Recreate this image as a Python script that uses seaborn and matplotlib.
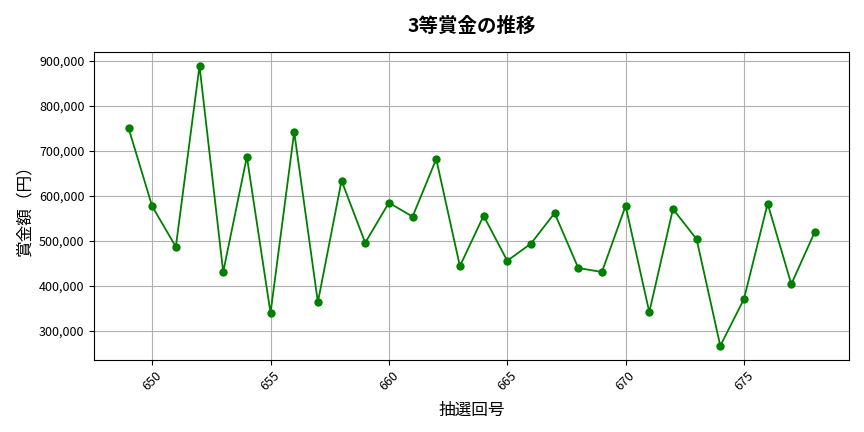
import matplotlib
matplotlib.use("Agg")
import matplotlib.pyplot as plt
import matplotlib.ticker as mticker
import seaborn as sns
import pandas as pd

draws = list(range(649, 679))
prizes = [751000, 577000, 487000, 889000, 431000, 687000, 340000, 742000, 364000, 634000,
          496000, 585000, 554000, 682000, 444000, 556000, 456000, 494000, 562000, 440000,
          431000, 578000, 342000, 571000, 504000, 267000, 371000, 583000, 404000, 521000]

title = "3等賞金の推移"
xlabel = "抽選回号"
ylabel = "賞金額（円）"

plt.rcParams['font.family'] = ['Noto Sans CJK JP', 'DejaVu Sans']

df = pd.DataFrame({"draw": draws, "prize": prizes})

fig = plt.figure(figsize=(8.64, 4.32), dpi=100)
ax = fig.add_axes([0.109, 0.167, 0.874, 0.713])
sns.lineplot(data=df, x="draw", y="prize", ax=ax, color="green", marker="o",
             markersize=6, markeredgewidth=0, linewidth=1.3)
ax.grid(True, color="#b0b0b0", linewidth=0.8)
ax.set_axisbelow(True)
ax.yaxis.set_major_formatter(mticker.FuncFormatter(lambda v, p: f"{int(v):,}"))
ax.xaxis.set_major_locator(mticker.MultipleLocator(5))
ax.tick_params(axis="x", labelrotation=45, labelsize=9)
ax.tick_params(axis="y", labelsize=9)
ax.set_title(title, fontsize=14, fontweight="bold", pad=14)
ax.set_xlabel(xlabel, fontsize=12, labelpad=6)
ax.set_ylabel(ylabel, fontsize=12)
fig.savefig("out.png", dpi=100)
